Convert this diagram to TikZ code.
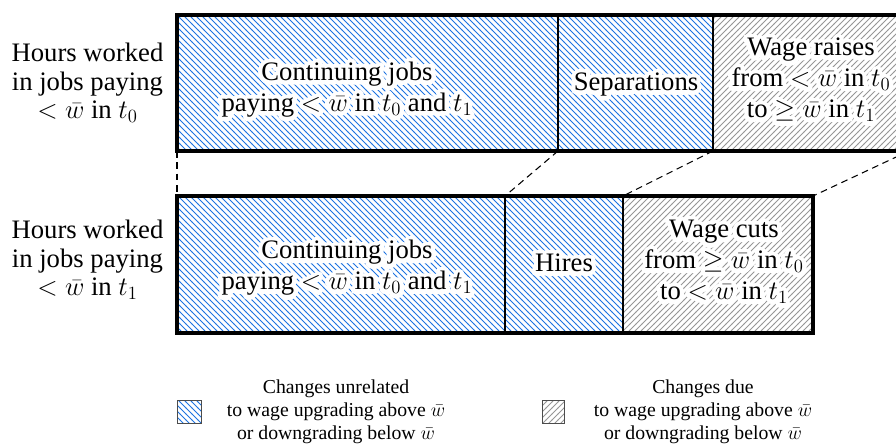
\RequirePackage{fix-cm}
\documentclass[tikz,border=0pt]{standalone}
\usepackage{fontspec}
\setmainfont{Liberation Serif}
\usetikzlibrary{patterns}
\definecolor{hatchblue}{RGB}{30,115,225}
\definecolor{hatchgray}{RGB}{150,150,150}
\pgfdeclarepatternformonly{nwhatch}{\pgfqpoint{-1pt}{-1pt}}{\pgfqpoint{5.5pt}{5.5pt}}{\pgfqpoint{4.5pt}{4.5pt}}{%
  \pgfsetlinewidth{0.75pt}%
  \pgfpathmoveto{\pgfqpoint{-0.1pt}{4.6pt}}\pgfpathlineto{\pgfqpoint{4.6pt}{-0.1pt}}\pgfusepath{stroke}}
\pgfdeclarepatternformonly{nehatch}{\pgfqpoint{-1pt}{-1pt}}{\pgfqpoint{5.5pt}{5.5pt}}{\pgfqpoint{4.5pt}{4.5pt}}{%
  \pgfsetlinewidth{0.75pt}%
  \pgfpathmoveto{\pgfqpoint{-0.1pt}{-0.1pt}}\pgfpathlineto{\pgfqpoint{4.6pt}{4.6pt}}\pgfusepath{stroke}}
\newcommand{\halonode}[4]{%
  \node[#2,text=white] (#1-halo) at (#3) {\special{pdf:literal direct 2 Tr 6.5 w 1 j 1 J 1 G}#4\special{pdf:literal direct 0 Tr}};
  \node[#2] (#1) at (#3) {#4};
}
\tikzset{
  boxtext/.style={font=\fontsize{20}{23.25}\selectfont, align=center, inner sep=0pt},
  labeltext/.style={font=\fontsize{20}{21.2}\selectfont, align=center, inner sep=0pt},
  legtext/.style={font=\fontsize{14.8}{17.4}\selectfont, align=center, inner sep=0pt},
  bluehatch/.style={pattern=nwhatch, pattern color=hatchblue},
  grayhatch/.style={pattern=nehatch, pattern color=hatchgray},
  divider/.style={line width=1.5pt},
  frame/.style={line width=2.3pt},
  link/.style={line width=0.8pt, dash pattern=on 5pt off 3.5pt},
  legbox/.style={draw=black!70, line width=0.7pt}
}
\begin{document}
\begin{tikzpicture}[x=0.75pt,y=-0.75pt]
\path[use as bounding box] (0,0) rectangle (896,444);
% top row corners
\coordinate (T0) at (177,15);  \coordinate (T1) at (558,15);
\coordinate (T2) at (713,15);  \coordinate (T3) at (909,15);
\coordinate (Tb0) at (177,151); \coordinate (Tb1) at (558,151);
\coordinate (Tb2) at (713,151); \coordinate (Tb3) at (909,151);
% bottom row corners
\coordinate (B0) at (177,196);  \coordinate (B1) at (505,196);
\coordinate (B2) at (623,196);  \coordinate (B3) at (813,196);
\coordinate (Bb0) at (177,333); \coordinate (Bb1) at (505,333);
\coordinate (Bb2) at (623,333); \coordinate (Bb3) at (813,333);
% hatching
\fill[bluehatch] (T0) rectangle (Tb2);
\fill[grayhatch] (T2) rectangle (Tb3);
\fill[bluehatch] (B0) rectangle (Bb2);
\fill[grayhatch] (B2) rectangle (Bb3);
% dividers
\draw[divider] (T1) -- (Tb1);
\draw[divider] (T2) -- (Tb2);
\draw[divider] (B1) -- (Bb1);
\draw[divider] (B2) -- (Bb2);
% frames
\draw[frame] (T0) rectangle (Tb3);
\draw[frame] (B0) rectangle (Bb3);
% dashed links
\draw[link] (Tb0) -- (B0);
\draw[link] (Tb1) -- (B1);
\draw[link] (Tb2) -- (B2);
\draw[link] (Tb3) -- (B3);
% row labels
\node[labeltext] (labtop) at (87.5,83) {Hours worked\\in jobs paying\\$<\bar{w}$ in $t_0$};
\node[labeltext] (labbot) at (87.5,260) {Hours worked\\in jobs paying\\$<\bar{w}$ in $t_1$};
% box texts
\halonode{conttop}{boxtext}{347,89.5}{Continuing jobs\\paying $<\bar{w}$ in $t_0$ and $t_1$}
\halonode{sep}{boxtext}{636,84.5}{Separations}
\halonode{raise}{boxtext}{811,80}{Wage raises\\from $<\bar{w}$ in $t_0$\\to $\geq\bar{w}$ in $t_1$}
\halonode{contbot}{boxtext}{347,268}{Continuing jobs\\paying $<\bar{w}$ in $t_0$ and $t_1$}
\halonode{hires}{boxtext}{564,263}{Hires}
\halonode{cuts}{boxtext}{724,262}{Wage cuts\\from $\geq\bar{w}$ in $t_0$\\to $<\bar{w}$ in $t_1$}
% legend
\fill[bluehatch] (177,400) rectangle (201,423);
\draw[legbox] (177,400) rectangle (201,423);
\node[legtext] (legblue) at (336,412) {Changes unrelated\\to wage upgrading above $\bar{w}$\\or downgrading below $\bar{w}$};
\fill[grayhatch] (542,400) rectangle (564,423);
\draw[legbox] (542,400) rectangle (564,423);
\node[legtext] (leggray) at (703,412) {Changes due\\to wage upgrading above $\bar{w}$\\or downgrading below $\bar{w}$};
\end{tikzpicture}
\end{document}
